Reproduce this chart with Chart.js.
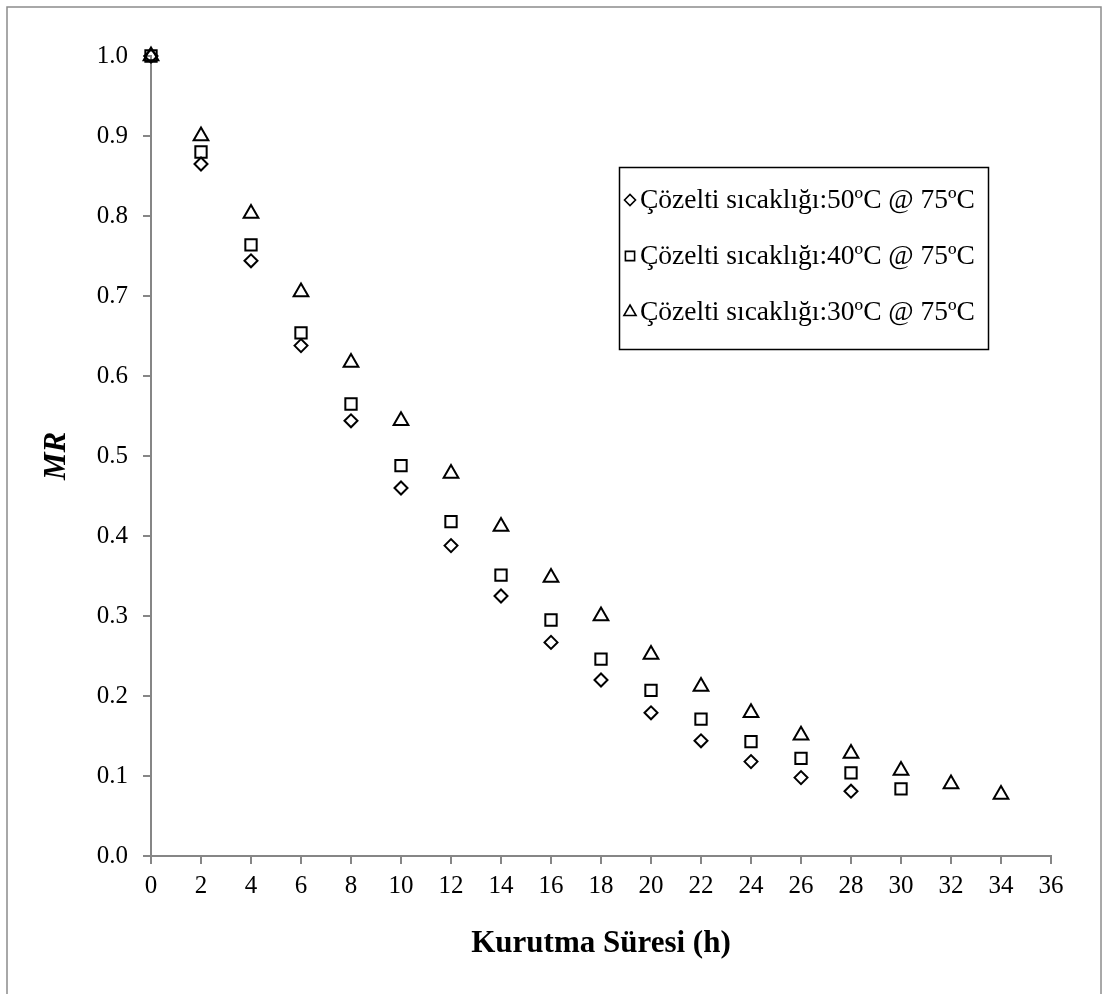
<!DOCTYPE html>
<html>
<head>
<meta charset="utf-8">
<script src="https://cdn.jsdelivr.net/npm/chart.js@4.4.0/dist/chart.umd.min.js"></script>
<style>
  body { margin: 0; background: #fff; }
</style>
</head>
<body>
<canvas id="chart" width="1107" height="994"></canvas>
<script>
// data
const hours = [0, 2, 4, 6, 8, 10, 12, 14, 16, 18, 20, 22, 24, 26, 28, 30, 32, 34];
const mr50 = [1.0, 0.865, 0.744, 0.638, 0.544, 0.460, 0.388, 0.325, 0.267, 0.220, 0.179, 0.144, 0.118, 0.098, 0.081];
const mr40 = [1.0, 0.880, 0.764, 0.654, 0.565, 0.488, 0.418, 0.351, 0.295, 0.246, 0.207, 0.171, 0.143, 0.122, 0.104, 0.084];
const mr30 = [1.0, 0.900, 0.803, 0.705, 0.617, 0.544, 0.478, 0.412, 0.348, 0.300, 0.252, 0.212, 0.179, 0.151, 0.128, 0.107, 0.090, 0.077];
const seriesLabels = [
    'Çözelti sıcaklığı:50ºC @ 75ºC',
    'Çözelti sıcaklığı:40ºC @ 75ºC',
    'Çözelti sıcaklığı:30ºC @ 75ºC'
];

const serif = "'Liberation Serif', 'Times New Roman', serif";
const axisGray = '#868686';

const toPoints = (ys) => ys.map((y, i) => ({ x: hours[i], y: y }));

//Legend box and frame
const boxLegend = {
    id: 'boxLegend',
    afterDraw(chart) {
        const ctx = chart.ctx;
        ctx.save();
        // outer frame
        ctx.strokeStyle = '#8c8c8c';
        ctx.lineWidth = 1.5;
        ctx.strokeRect(7, 7, 1094, 1010);
        // legend frame
        ctx.strokeStyle = '#000';
        ctx.lineWidth = 1.5;
        ctx.strokeRect(619.5, 167.5, 369, 182);
        chart.data.datasets.forEach((ds, i) => {
            const y = 200 + 56 * i;
            ctx.strokeStyle = '#000';
            ctx.fillStyle = 'rgba(0,0,0,0)';
            ctx.lineWidth = 1.6;
            Chart.helpers.drawPoint(ctx, {
                pointStyle: ds.pointStyle,
                radius: ds.legendRadius,
                rotation: 0,
                borderWidth: 1.6
            }, 630, y);
            ctx.fillStyle = '#000';
            ctx.font = '27.5px ' + serif;
            ctx.textBaseline = 'middle';
            ctx.textAlign = 'left';
            ctx.fillText(ds.label, 640, y + 1);
        });
        ctx.restore();
    }
};

const common = {
    showLine: false,
    borderColor: '#000',
    backgroundColor: 'rgba(0,0,0,0)',
    pointBorderColor: '#000',
    pointBackgroundColor: 'rgba(0,0,0,0)',
    pointBorderWidth: 2,
    clip: false
};

const data = {
    datasets: [
        Object.assign({ label: seriesLabels[0], data: toPoints(mr50), pointStyle: 'rectRot', pointRadius: 6.5, legendRadius: 5.5 }, common),
        Object.assign({ label: seriesLabels[1], data: toPoints(mr40), pointStyle: 'rect', pointRadius: 8, legendRadius: 6.5 }, common),
        Object.assign({ label: seriesLabels[2], data: toPoints(mr30), pointStyle: 'triangle', pointRadius: 8.5, legendRadius: 7 }, common)
    ]
};

const config = {
    type: 'scatter',
    data: data,
    options: {
        responsive: false,
        animation: false,
        layout: {
            padding: { left: 0, top: 56, right: 56, bottom: 0 }
        },
        plugins: {
            legend: { display: false },
            tooltip: { enabled: false }
        },
        scales: {
            x: {
                type: 'linear',
                min: 0,
                max: 36,
                afterFit: (scale) => { scale.height = 138; },
                ticks: {
                    stepSize: 2,
                    color: '#000',
                    padding: 7,
                    font: { family: serif, size: 25 }
                },
                grid: {
                    drawOnChartArea: false,
                    drawTicks: true,
                    tickLength: 8,
                    color: axisGray,
                    lineWidth: 2
                },
                border: { display: true, color: axisGray, width: 2 },
                title: {
                    display: true,
                    text: 'Kurutma Süresi (h)',
                    color: '#000',
                    padding: { top: 0, bottom: 31 },
                    font: { family: serif, size: 31, weight: 'bold' }
                }
            },
            y: {
                type: 'linear',
                min: 0,
                max: 1,
                afterFit: (scale) => { scale.width = 151; },
                ticks: {
                    stepSize: 0.1,
                    color: '#000',
                    padding: 15,
                    font: { family: serif, size: 25 },
                    callback: (v) => v.toFixed(1)
                },
                grid: {
                    drawOnChartArea: false,
                    drawTicks: true,
                    tickLength: 8,
                    color: axisGray,
                    lineWidth: 2
                },
                border: { display: true, color: axisGray, width: 2 },
                title: {
                    display: true,
                    text: 'MR',
                    color: '#000',
                    padding: { top: 38, bottom: 0 },
                    font: { family: serif, size: 31, weight: 'bold', style: 'italic' }
                }
            }
        }
    },
    plugins: [boxLegend]
};

new Chart(document.getElementById('chart'), config);
</script>
</body>
</html>
